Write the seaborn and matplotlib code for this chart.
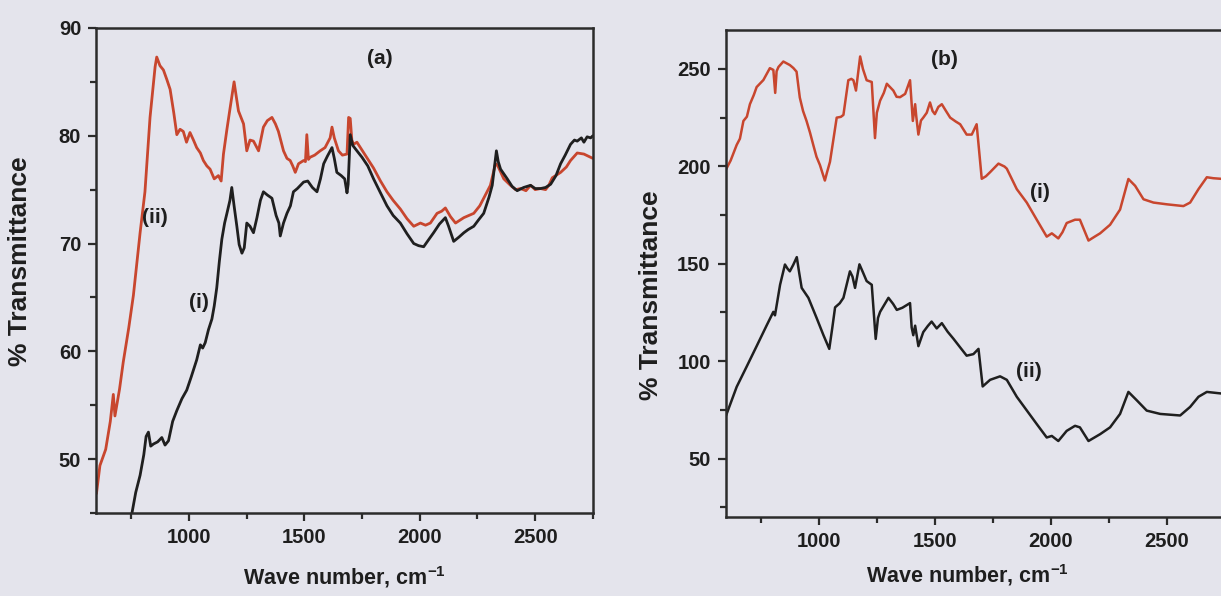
import numpy as np
import pandas as pd
import matplotlib
matplotlib.use("Agg")
import matplotlib.pyplot as plt
from matplotlib.ticker import MultipleLocator
import seaborn as sns

# ---------------- data ----------------
# Panel (a): curve (ii) red, curve (i) black
a_red_x = [600, 615, 640, 660, 673, 680, 700, 716, 740, 760, 789, 810, 832, 854, 861, 875, 890, 905,
           919, 935, 948, 962, 976, 990, 1005, 1020, 1034, 1050, 1063, 1078, 1092, 1110, 1128, 1140,
           1150, 1165, 1179, 1196, 1205, 1215, 1237, 1251, 1265, 1280, 1302, 1323, 1340, 1360, 1375,
           1388, 1410, 1425, 1439, 1450, 1461, 1475, 1497, 1505, 1511, 1518, 1525, 1545, 1569, 1590,
           1612, 1620, 1630, 1648, 1665, 1685, 1692, 1699, 1706, 1713, 1728, 1743, 1770, 1800, 1830,
           1858, 1885, 1916, 1945, 1974, 2003, 2025, 2046, 2075, 2095, 2111, 2133, 2155, 2191, 2234,
           2260, 2277, 2306, 2328, 2336, 2364, 2393, 2415, 2437, 2460, 2480, 2500, 2523, 2545, 2559,
           2574, 2610, 2635, 2653, 2682, 2711, 2740, 2750]
a_red_y = [46.8, 49.4, 50.9, 53.5, 56.0, 54.0, 56.5, 59.0, 62.2, 65.2, 71.0, 74.8, 81.7, 86.4, 87.3,
           86.5, 86.1, 85.2, 84.3, 82.1, 80.1, 80.6, 80.4, 79.4, 80.3, 79.6, 78.9, 78.4, 77.7, 77.2,
           76.9, 76.0, 76.3, 75.8, 78.3, 80.6, 82.6, 85.0, 83.7, 82.3, 81.1, 78.6, 79.6, 79.5, 78.6,
           80.8, 81.4, 81.7, 81.1, 80.4, 78.6, 77.9, 77.7, 77.2, 76.6, 77.4, 77.7, 77.6, 80.1, 77.8,
           78.0, 78.2, 78.6, 78.9, 79.8, 80.8, 79.8, 78.6, 78.2, 78.3, 81.7, 81.6, 79.6, 79.2, 79.4,
           78.9, 78.0, 77.0, 75.8, 74.8, 74.0, 73.2, 72.3, 71.6, 71.9, 71.7, 71.9, 72.8, 73.0, 73.3,
           72.5, 71.9, 72.4, 72.8, 73.5, 74.2, 75.4, 77.4, 77.3, 76.0, 75.4, 75.0, 75.1, 74.9, 75.4,
           75.0, 75.1, 75.0, 75.4, 76.1, 76.6, 77.1, 77.7, 78.4, 78.3, 78.0, 77.9]

a_blk_x = [735, 753, 770, 789, 805, 815, 825, 835, 847, 865, 883, 897, 912, 930, 948, 970, 991, 1010,
           1034, 1050, 1060, 1071, 1085, 1100, 1110, 1121, 1132, 1143, 1155, 1165, 1178, 1186, 1196,
           1208, 1218, 1230, 1240, 1251, 1265, 1280, 1295, 1310, 1323, 1340, 1360, 1378, 1390, 1396,
           1410, 1425, 1440, 1453, 1470, 1497, 1515, 1535, 1555, 1570, 1584, 1600, 1620, 1630, 1641,
           1660, 1675, 1685, 1690, 1699, 1710, 1728, 1750, 1775, 1800, 1830, 1858, 1885, 1916, 1945,
           1974, 1995, 2017, 2040, 2060, 2085, 2111, 2125, 2147, 2170, 2191, 2210, 2234, 2255, 2277,
           2300, 2314, 2332, 2340, 2350, 2379, 2400, 2422, 2450, 2480, 2500, 2523, 2545, 2567, 2590,
           2610, 2630, 2653, 2670, 2682, 2700, 2711, 2725, 2740, 2750]
a_blk_y = [43.5, 44.9, 46.9, 48.5, 50.4, 52.1, 52.5, 51.2, 51.4, 51.6, 52.0, 51.3, 51.7, 53.5, 54.5,
           55.6, 56.4, 57.6, 59.2, 60.6, 60.3, 60.8, 62.0, 63.0, 64.2, 65.9, 68.3, 70.4, 71.9, 72.8,
           74.0, 75.2, 73.5, 71.6, 69.9, 69.1, 69.6, 71.9, 71.6, 71.0, 72.4, 74.0, 74.8, 74.5, 74.2,
           72.6, 71.9, 70.7, 71.9, 72.8, 73.5, 74.8, 75.1, 75.7, 75.8, 75.2, 74.8, 76.0, 77.4, 78.1,
           78.9, 77.9, 76.6, 76.3, 76.0, 74.7, 75.5, 80.1, 79.1, 78.6, 78.0, 77.2, 76.0, 74.7, 73.5,
           72.6, 71.9, 70.9, 70.0, 69.8, 69.7, 70.4, 71.0, 71.8, 72.4, 71.6, 70.2, 70.6, 71.0, 71.3,
           71.6, 72.2, 72.8, 74.3, 75.4, 78.6, 77.6, 76.9, 76.0, 75.3, 74.9, 75.2, 75.4, 75.1, 75.1,
           75.2, 75.5, 76.3, 77.4, 78.2, 79.2, 79.6, 79.5, 79.8, 79.4, 79.9, 79.8, 80.0]

# Panel (b): curve (i) red, curve (ii) black
b_red_x = [600, 620, 646, 660, 675, 690, 703, 720, 732, 761, 789, 804, 812, 818, 826, 847, 875, 890,
           904, 918, 932, 947, 962, 976, 990, 1005, 1015, 1026, 1035, 1048, 1062, 1077, 1095, 1106,
           1127, 1140, 1149, 1160, 1178, 1190, 1206, 1228, 1242, 1250, 1264, 1280, 1293, 1321, 1335,
           1350, 1372, 1393, 1405, 1415, 1420, 1429, 1440, 1450, 1465, 1479, 1490, 1500, 1515, 1530,
           1548, 1566, 1590, 1609, 1637, 1659, 1680, 1702, 1720, 1738, 1774, 1800, 1810, 1853, 1896,
           1939, 1982, 2004, 2032, 2050, 2068, 2104, 2125, 2162, 2190, 2212, 2255, 2298, 2334, 2363,
           2399, 2442, 2500, 2571, 2600, 2636, 2672, 2700, 2733]
b_red_y = [198.4, 203.0, 211.0, 214.2, 223.3, 225.5, 231.9, 236.7, 240.7, 244.3, 250.4, 249.5, 237.7,
           248.8, 251.0, 253.8, 252.0, 250.5, 248.6, 235.3, 228.4, 223.3, 217.3, 211.0, 204.9, 200.6,
           196.8, 192.7, 196.8, 202.3, 213.2, 225.0, 225.4, 226.4, 244.2, 244.9, 244.2, 238.9, 256.4,
           250.0, 244.2, 243.3, 214.5, 227.5, 233.7, 237.7, 242.4, 238.9, 235.7, 235.5, 237.2, 244.2,
           223.3, 231.9, 225.5, 216.3, 223.5, 225.0, 227.5, 232.8, 228.4, 226.8, 230.5, 231.9, 228.4,
           225.0, 223.0, 221.6, 216.3, 216.3, 221.6, 193.6, 194.9, 197.0, 201.4, 199.9, 198.8, 188.3,
           181.4, 172.6, 163.9, 165.6, 163.0, 166.2, 170.9, 172.6, 172.6, 161.9, 164.0, 165.6, 170.0,
           177.8, 193.5, 190.0, 183.1, 181.4, 180.5, 179.6, 181.4, 188.3, 194.4, 193.9, 193.6]

b_blk_x = [600, 646, 689, 732, 775, 804, 811, 833, 854, 865, 875, 890, 905, 915, 926, 955, 991, 1020,
           1045, 1058, 1070, 1090, 1106, 1134, 1145, 1156, 1175, 1190, 1206, 1228, 1245, 1255, 1264,
           1300, 1320, 1336, 1360, 1393, 1400, 1407, 1415, 1429, 1450, 1470, 1486, 1508, 1530, 1555,
           1580, 1610, 1637, 1666, 1688, 1706, 1738, 1781, 1810, 1853, 1896, 1939, 1982, 2004, 2032,
           2068, 2104, 2125, 2162, 2212, 2255, 2298, 2334, 2370, 2413, 2471, 2557, 2600, 2636, 2672,
           2733]
b_blk_y = [72.0, 86.8, 97.2, 107.7, 118.3, 125.3, 123.5, 139.2, 149.6, 147.5, 146.1, 149.5, 153.4,
           145.6, 137.6, 132.5, 122.0, 113.3, 106.3, 117.1, 127.6, 129.7, 132.5, 146.1, 143.4, 137.6,
           149.7, 145.6, 141.1, 139.2, 111.4, 122.2, 125.3, 132.5, 129.4, 126.3, 127.4, 129.8, 117.3,
           113.3, 118.2, 107.7, 114.9, 118.1, 120.3, 116.8, 119.5, 115.1, 111.5, 106.9, 102.8, 103.6,
           106.3, 87.0, 90.4, 92.2, 90.4, 81.7, 74.7, 67.7, 60.8, 61.6, 59.0, 64.2, 66.8, 66.0, 59.0,
           62.5, 66.0, 72.9, 84.2, 79.9, 74.6, 72.9, 72.1, 76.5, 81.7, 84.2, 83.4]

a_ticks_x = [1000, 1500, 2000, 2500]
a_ticks_y = [50, 60, 70, 80, 90]
b_ticks_x = [1000, 1500, 2000, 2500]
b_ticks_y = [50, 100, 150, 200, 250]

xlabel_text = "Wave number, cm$^{\\mathbf{-1}}$"
ylabel_text = "% Transmittance"

# ---------------- style ----------------
BG = "#e4e4ec"
RED = "#c8462e"
BLK = "#1f1f1f"
SPINE = "#2b2b2b"
TXT = "#1e1e1e"

sns.set_theme(style="ticks")
plt.rcParams["font.family"] = ["Liberation Sans", "DejaVu Sans"]
plt.rcParams["font.weight"] = "bold"
plt.rcParams["mathtext.fontset"] = "custom"
plt.rcParams["mathtext.rm"] = "Liberation Sans:bold"
plt.rcParams["mathtext.bf"] = "Liberation Sans:bold"
plt.rcParams["mathtext.default"] = "bf"

fig = plt.figure(figsize=(12.21, 5.96), dpi=100, facecolor=BG)
ax1 = fig.add_axes([0.0790, 0.1393, 0.4066, 0.8138])
ax2 = fig.add_axes([0.5946, 0.1326, 0.4054, 0.8171])

for ax in (ax1, ax2):
    ax.set_facecolor(BG)

# panel (a)
sns.lineplot(x=a_red_x, y=a_red_y, ax=ax1, color=RED, linewidth=2.0, estimator=None, sort=False)
sns.lineplot(x=a_blk_x, y=a_blk_y, ax=ax1, color=BLK, linewidth=2.0, estimator=None, sort=False)
ax1.set_xlim(600, 2750)
ax1.set_ylim(45, 90)
ax1.set_xticks(a_ticks_x)
ax1.set_yticks(a_ticks_y)
ax1.xaxis.set_minor_locator(MultipleLocator(250))
ax1.yaxis.set_minor_locator(MultipleLocator(5))

# panel (b)
sns.lineplot(x=b_red_x, y=b_red_y, ax=ax2, color=RED, linewidth=1.8, estimator=None, sort=False)
sns.lineplot(x=b_blk_x, y=b_blk_y, ax=ax2, color=BLK, linewidth=1.8, estimator=None, sort=False)
ax2.set_xlim(600, 2733)
ax2.set_ylim(20, 270)
ax2.set_xticks(b_ticks_x)
ax2.set_yticks(b_ticks_y)
ax2.xaxis.set_minor_locator(MultipleLocator(250))
ax2.yaxis.set_minor_locator(MultipleLocator(25))

for ax in (ax1, ax2):
    for s in ax.spines.values():
        s.set_color(SPINE)
        s.set_linewidth(1.8)
        s.set_visible(True)
    ax.tick_params(which="both", direction="out", color=SPINE, width=1.6,
                   top=False, right=False, labelsize=14.5, labelcolor=TXT, pad=5)
    ax.tick_params(which="major", length=6)
    ax.tick_params(which="minor", length=4)
    for lab in ax.get_xticklabels() + ax.get_yticklabels():
        lab.set_fontweight("bold")
    ax.set_xlabel(xlabel_text, fontsize=15.5, fontweight="bold", color=TXT)
    ax.set_ylabel(ylabel_text, fontsize=19, fontweight="bold", color=TXT)

ax2.spines["right"].set_visible(False)

ax1.yaxis.set_label_coords(-0.130, 0.52)
ax1.xaxis.set_label_coords(0.5, -0.105)
ax2.yaxis.set_label_coords(-0.127, 0.455)
ax2.xaxis.set_label_coords(0.487, -0.093)

# in-plot labels
txt = dict(fontsize=15, fontweight="bold", color=TXT, ha="center", va="center")
ax1.text(1825, 87.2, "(a)", **txt)
ax1.text(851, 72.4, "(ii)", **txt)
ax1.text(1042, 64.5, "(i)", **txt)
ax2.text(1542, 254.9, "(b)", **txt)
ax2.text(1952, 186.4, "(i)", **txt)
ax2.text(1906, 94.6, "(ii)", **txt)

fig.savefig("out.png", dpi=100, facecolor=BG)
